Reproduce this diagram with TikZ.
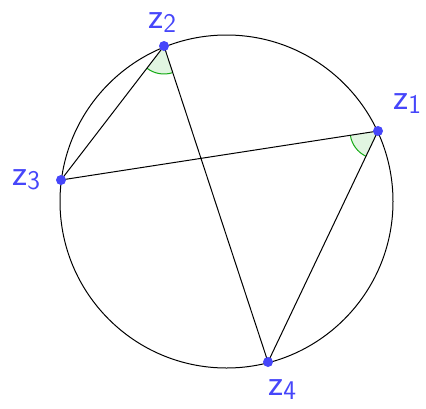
\documentclass[tikz,border=0pt]{standalone}
\usepackage{fontspec}
\usetikzlibrary{angles}
\definecolor{ptblue}{RGB}{70,70,250}
\definecolor{anggreen}{RGB}{20,170,20}
\definecolor{angfill}{RGB}{225,245,225}
\newcommand{\zlab}[1]{z\raisebox{-4pt}{\fontsize{27}{27}\selectfont #1}}
\tikzset{
  chord/.style={draw=black,line width=1pt},
  ptdot/.style={circle,fill=ptblue,inner sep=0pt,minimum size=10pt},
  ptlabel/.style={text=ptblue,font=\sffamily\fontsize{37}{37}\selectfont,inner sep=0pt,anchor=base west},
  angmark/.style={draw=anggreen,fill=angfill,line width=1pt,angle radius=28pt}
}
\begin{document}
\begin{tikzpicture}[x=1pt,y=-1pt]
\useasboundingbox (0,0) rectangle (426,408);
\coordinate (c) at (226.5,201.5);
\draw[chord] (c) circle[radius=166.5pt];
\coordinate (z1) at (378,131);
\coordinate (z2) at (164,46);
\coordinate (z3) at (61,180);
\coordinate (z4) at (268,362);
\pic[angmark] {angle=z3--z2--z4};
\pic[angmark] {angle=z3--z1--z4};
\draw[chord] (z3) -- (z2) -- (z4) -- (z1) -- (z3);
\node[ptdot] (p1) at (z1) {};
\node[ptdot] (p2) at (z2) {};
\node[ptdot] (p3) at (z3) {};
\node[ptdot] (p4) at (z4) {};
\node[ptlabel] (l1) at (393,109) {\zlab{1}};
\node[ptlabel] (l2) at (148,28) {\zlab{2}};
\node[ptlabel] (l3) at (12,185) {\zlab{3}};
\node[ptlabel] (l4) at (268,395) {\zlab{4}};
\end{tikzpicture}
\end{document}
